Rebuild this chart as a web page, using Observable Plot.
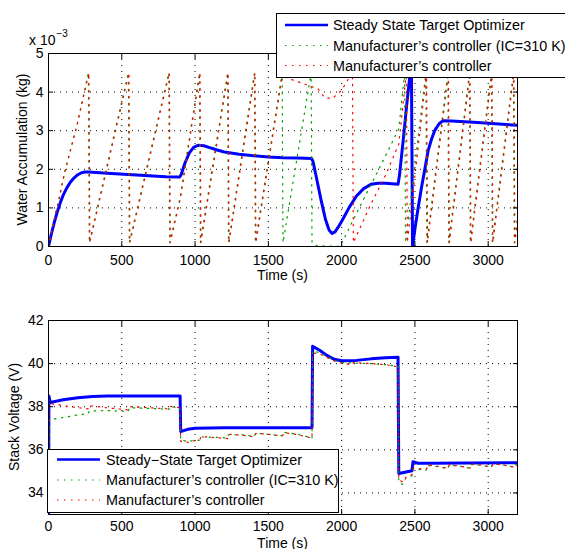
<!DOCTYPE html>
<html><head><meta charset="utf-8">
<script src="https://cdn.jsdelivr.net/npm/d3@7"></script>
<script src="https://cdn.jsdelivr.net/npm/@observablehq/plot@0.6"></script>
<style>
html,body{margin:0;padding:0;background:#fff;}
#chart{width:565px;height:549px;overflow:hidden;position:relative;}
#chart svg{display:block;}
</style></head><body><div id="chart"></div>
<script>
// ---------- DATA ----------
const xTicks = [0, 500, 1000, 1500, 2000, 2500, 3000];
const waterTicks = [0, 1, 2, 3, 4, 5];          // x 10^-3 kg
const voltTicks = [34, 36, 38, 40, 42];

const legendTop = ["Steady State Target Optimizer", "Manufacturer\u2019s controller (IC=310 K)", "Manufacturer\u2019s controller"];
const legendBottom = ["Steady\u2212State Target Optimizer", "Manufacturer\u2019s controller (IC=310 K)", "Manufacturer\u2019s controller"];

// Water accumulation, [time s, value x 10^-3 kg]
const waterSSTO = [[0,0],[20,0.33],[40,0.63],[60,0.9],[80,1.13],[100,1.33],[125,1.52],[150,1.67],[175,1.78],[200,1.86],[225,1.91],[250,1.93],[275,1.93],[400,1.9],[600,1.85],[800,1.81],[895,1.8],[905,1.86],[930,2.15],[960,2.42],[990,2.57],[1020,2.62],[1060,2.61],[1100,2.56],[1150,2.5],[1200,2.45],[1300,2.39],[1400,2.35],[1500,2.32],[1600,2.3],[1700,2.29],[1795,2.28],[1805,2.2],[1830,1.75],[1860,1.2],[1890,0.7],[1915,0.42],[1935,0.34],[1955,0.38],[1980,0.52],[2010,0.72],[2050,1.0],[2100,1.3],[2150,1.5],[2200,1.61],[2250,1.64],[2300,1.64],[2385,1.61],[2395,1.85],[2420,2.75],[2445,3.7],[2465,4.4],[2476,4.8],[2484,0.0],[2500,0.45],[2520,0.95],[2545,1.53],[2570,2.05],[2590,2.48],[2615,2.8],[2636,3.01],[2665,3.18],[2693,3.26],[2750,3.25],[2900,3.22],[3050,3.18],[3200,3.14]];
const waterMfrIC310 = [[0,0],[20,0.35],[45,0.8],[70,1.2],[112,1.95],[192,3.1],[272,4.5],[278,0.1],[545,4.5],[551,0.1],[821,4.5],[827,0.1],[900,1.3],[1030,4.5],[1036,0.1],[1222,4.5],[1228,0.1],[1405,4.5],[1411,0.1],[1594,4.5],[1600,0.1],[1792,4.5],[1798,0.1],[1830,0.02],[1990,0.0],[2100,0.85],[2200,1.6],[2300,2.35],[2390,3.05],[2430,4.5],[2436,0.1],[2575,4.5],[2581,0.1],[2725,4.5],[2731,0.1],[2872,4.5],[2878,0.1],[3022,4.5],[3028,0.1],[3172,4.5],[3178,0.1],[3200,0.75]];
const waterMfr = [[0,0],[20,0.35],[45,0.8],[70,1.2],[112,1.95],[192,3.1],[276,4.5],[282,0.1],[549,4.5],[555,0.1],[825,4.5],[831,0.1],[900,1.25],[1034,4.5],[1040,0.1],[1226,4.5],[1232,0.1],[1409,4.5],[1415,0.1],[1598,4.5],[1605,4.4],[1840,4.08],[1886,3.85],[1940,3.84],[2000,4.05],[2040,4.3],[2074,4.5],[2080,0.1],[2200,1.1],[2300,1.85],[2390,2.65],[2442,4.5],[2448,0.1],[2580,4.5],[2586,0.1],[2729,4.5],[2735,0.1],[2876,4.5],[2882,0.1],[3026,4.5],[3032,0.1],[3176,4.5],[3182,0.1],[3200,0.65]];

// Stack voltage, [time s, volts]
const voltSSTO = [[0,32.5],[3,38.5],[12,38.2],[100,38.32],[200,38.42],[300,38.47],[400,38.5],[600,38.5],[898,38.5],[902,36.85],[950,36.95],[1000,37.0],[1200,37.02],[1798,37.02],[1802,40.8],[1850,40.62],[1900,40.38],[1950,40.2],[2000,40.13],[2100,40.15],[2200,40.22],[2300,40.27],[2385,40.3],[2390,34.9],[2480,35.03],[2487,35.45],[2520,35.38],[2600,35.38],[3200,35.4]];
const voltMfrIC310 = [[0,33.1],[5,37.4],[100,37.5],[200,37.62],[272,37.68],[278,37.8],[400,37.82],[545,37.78],[551,37.95],[700,37.92],[821,37.88],[827,38.0],[896,37.95],[902,36.45],[950,36.4],[1030,36.45],[1036,36.6],[1150,36.58],[1222,36.55],[1228,36.7],[1320,36.7],[1405,36.62],[1411,36.78],[1500,36.72],[1594,36.65],[1600,36.82],[1700,36.72],[1798,36.55],[1802,40.6],[1850,40.5],[1950,40.15],[2000,40.05],[2100,40.02],[2200,40.0],[2300,39.95],[2385,39.88],[2390,34.5],[2415,34.4],[2440,34.72],[2480,34.8],[2488,35.12],[2575,35.05],[2581,35.28],[2650,35.22],[2725,35.12],[2731,35.3],[2800,35.25],[2872,35.15],[2878,35.32],[2950,35.28],[3022,35.2],[3028,35.35],[3100,35.3],[3172,35.2],[3178,35.32],[3200,35.3]];
const voltMfr = [[0,33.1],[3,38.15],[60,38.1],[150,38.0],[276,37.9],[282,38.05],[400,37.95],[549,37.85],[555,38.0],[700,37.95],[825,37.9],[831,38.02],[896,37.95],[902,36.4],[950,36.35],[1034,36.48],[1040,36.62],[1150,36.56],[1226,36.52],[1232,36.72],[1320,36.68],[1409,36.6],[1415,36.76],[1500,36.72],[1598,36.65],[1604,36.8],[1700,36.7],[1798,36.55],[1802,40.5],[1850,40.45],[1950,40.12],[2000,40.02],[2074,39.95],[2080,40.05],[2200,40.0],[2300,39.95],[2385,39.85],[2390,34.6],[2420,34.5],[2442,34.75],[2480,34.85],[2488,35.15],[2580,35.1],[2586,35.3],[2650,35.25],[2729,35.15],[2735,35.3],[2800,35.25],[2876,35.15],[2882,35.35],[2950,35.3],[3026,35.2],[3032,35.35],[3100,35.3],[3176,35.2],[3182,35.3],[3200,35.25]];

// ---------- STYLE ----------
const FONT = "'Liberation Sans', Arial, Helvetica, sans-serif";
const BLUE = "#0000ff", GREEN = "#00a000", RED = "#ff0000";
const GRID_DASH = "1,5";
const DOT_DASH = "1.5,5.5";
const seriesStyle = [
  {stroke: BLUE, strokeWidth: 3, dash: null},
  {stroke: GREEN, strokeWidth: 1.2, dash: DOT_DASH},
  {stroke: RED, strokeWidth: 1.2, dash: DOT_DASH}
];
const fmt = d => String(d);

function makeChart({series, yDomain, yTicks, height, marginTop, marginBottom, xPad}) {
  const W = 565;
  const lines = series.map((data, i) => Plot.line(data, {
    stroke: seriesStyle[i].stroke,
    strokeWidth: seriesStyle[i].strokeWidth,
    strokeDasharray: seriesStyle[i].dash,
    strokeLinejoin: "round",
    clip: true
  }));
  const gridStyle = {stroke: "black", strokeOpacity: 1, strokeWidth: 1, strokeDasharray: GRID_DASH};
  return Plot.plot({
    width: W, height, marginLeft: 48, marginRight: 48, marginTop, marginBottom,
    style: {fontFamily: FONT, fontSize: "14px", color: "black", background: "white", overflow: "visible"},
    x: {domain: [0, 3200]},
    y: {domain: yDomain},
    marks: [
      Plot.gridX(xTicks.filter(d => d > 0), gridStyle),
      Plot.gridY(yTicks.filter(d => d > yDomain[0] && d < yDomain[1]), gridStyle),
      ...lines,
      Plot.axisX(xTicks, {anchor: "bottom", tickSize: 0, tickPadding: xPad, tickFormat: fmt, label: null, fontSize: 14}),
      Plot.axisX(xTicks, {anchor: "bottom", tickSize: -5, tickFormat: () => "", label: null}),
      Plot.axisX(xTicks, {anchor: "top", tickSize: -5, tickFormat: () => "", label: null}),
      Plot.axisY(yTicks, {anchor: "left", tickSize: 0, tickPadding: 5, tickFormat: fmt, label: null, fontSize: 14}),
      Plot.axisY(yTicks, {anchor: "left", tickSize: -5, tickFormat: () => "", label: null}),
      Plot.axisY(yTicks, {anchor: "right", tickSize: -5, tickFormat: () => "", label: null}),
      Plot.frame({stroke: "black", strokeWidth: 1})
    ]
  });
}

function addText(svg, x, y, txt, opts = {}) {
  const t = svg.append("text")
    .attr("x", x).attr("y", y)
    .attr("font-family", FONT)
    .attr("font-size", opts.size || 14)
    .attr("fill", "black")
    .attr("text-anchor", opts.anchor || "start")
    .text(txt);
  if (opts.rotate) t.attr("transform", `rotate(${opts.rotate},${x},${y})`);
  if (opts.baseline) t.attr("dominant-baseline", opts.baseline);
  return t;
}

function addLegend(svg, box, labels) {
  const g = svg.append("g");
  g.append("rect").attr("x", box.x + 0.5).attr("y", box.y + 0.5)
    .attr("width", box.w).attr("height", box.h)
    .attr("fill", "white").attr("stroke", "black").attr("stroke-width", 1);
  labels.forEach((lab, i) => {
    const y = box.rows[i];
    const s = seriesStyle[i];
    g.append("line").attr("x1", box.lx0).attr("x2", box.lx1).attr("y1", y).attr("y2", y)
      .attr("stroke", s.stroke).attr("stroke-width", i === 0 ? 2.5 : 1.2)
      .attr("stroke-dasharray", s.dash);
    addText(g, box.tx, y, lab, {baseline: "central", size: 14.4});
  });
}

const root = d3.select("#chart");

// ----- Top chart -----
const topChart = makeChart({
  series: [waterSSTO, waterMfrIC310, waterMfr],
  yDomain: [0, 5], yTicks: waterTicks,
  height: 290, marginTop: 53, marginBottom: 44, xPad: 9
});
root.node().appendChild(topChart);
{
  const svg = d3.select(topChart);
  const x = topChart.scale("x"), y = topChart.scale("y");
  const cx = (x.apply(0) + x.apply(3200)) / 2;
  const cy = (y.apply(0) + y.apply(5)) / 2;
  addText(svg, cx, 275, "Time (s)", {anchor: "middle", baseline: "central"});
  addText(svg, 27, cy, "Water Accumulation (kg)", {anchor: "middle", rotate: -90});
  const ex = svg.append("text").attr("x", x.apply(0) + 0.5).attr("y", 45)
    .attr("font-family", FONT).attr("font-size", 14).attr("fill", "black");
  ex.append("tspan").text("x 10");
  ex.append("tspan").attr("font-size", 10).attr("dy", -8.5).attr("dx", 1).text("\u22123");
  addLegend(svg, {x: 276, y: 13, w: 292, h: 64, rows: [25, 45.5, 65.5], lx0: 285, lx1: 328, tx: 333}, legendTop);
}

// ----- Bottom chart -----
const bottomChart = makeChart({
  series: [voltSSTO, voltMfrIC310, voltMfr],
  yDomain: [33, 42], yTicks: voltTicks,
  height: 259, marginTop: 30, marginBottom: 35, xPad: 7
});
root.node().appendChild(bottomChart);
{
  const svg = d3.select(bottomChart);
  const x = bottomChart.scale("x"), y = bottomChart.scale("y");
  const cx = (x.apply(0) + x.apply(3200)) / 2;
  const cy = (y.apply(33) + y.apply(42)) / 2;
  addText(svg, cx, 252.5, "Time (s)", {anchor: "middle", baseline: "central"});
  addText(svg, 19, cy, "Stack Voltage (V)", {anchor: "middle", rotate: -90});
  addLegend(svg, {x: 47, y: 159, w: 291, h: 63, rows: [169.5, 190, 210], lx0: 57, lx1: 100, tx: 106}, legendBottom);
}
</script></body></html>
